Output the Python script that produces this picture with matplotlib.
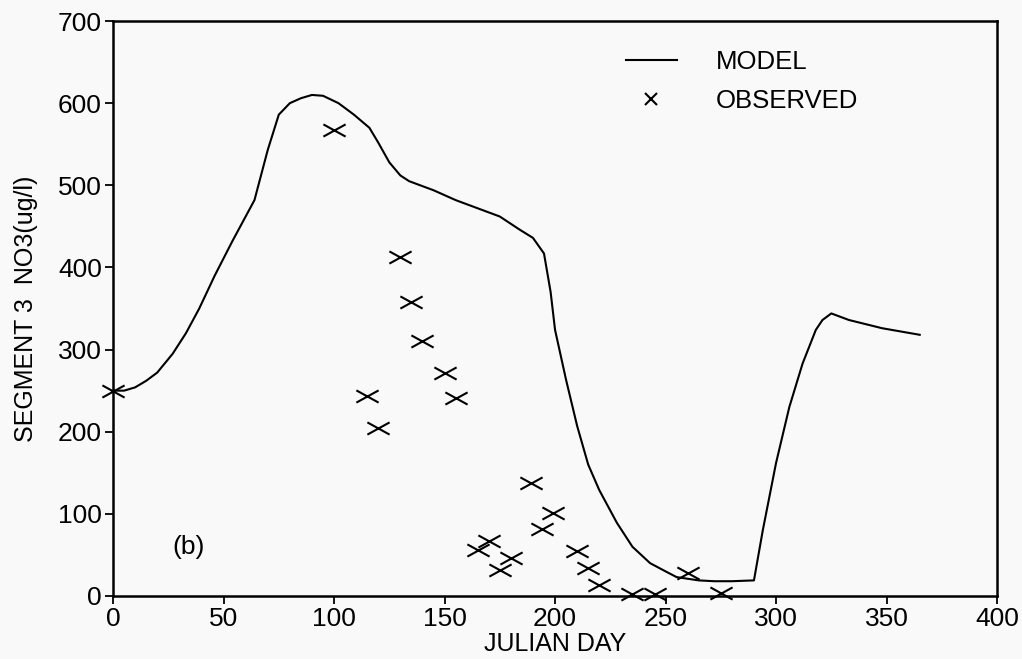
import numpy as np
import matplotlib
matplotlib.use("Agg")
import matplotlib.pyplot as plt
from matplotlib.path import Path
from matplotlib.lines import Line2D

# model curve
model_day = [0, 5, 10, 15, 20, 27, 33, 39, 46, 54, 64, 70, 75, 80, 85, 90, 95, 102,
             109, 116, 120, 125, 130, 134, 145, 155, 165, 175, 184, 190, 195, 198,
             200, 205, 210, 215, 220, 228, 235, 243, 250, 255, 265, 272, 280, 290,
             294, 300, 306, 312, 318, 321, 325, 333, 348, 365]
model_no3 = [250, 250, 254, 262, 272, 295, 320, 350, 390, 432, 482, 543, 586, 600,
             606, 610, 609, 600, 586, 570, 552, 528, 512, 505, 494, 482, 472, 462,
             446, 436, 417, 370, 324, 263, 207, 160, 129, 89, 60, 40, 30, 23, 19,
             18, 18, 19, 80, 162, 230, 283, 324, 336, 344, 336, 326, 318]

# observed samples
obs_day = [0, 100, 115, 120, 130, 135, 140, 150, 155, 165, 170, 175, 180, 189, 194,
           199, 210, 215, 220, 235, 245, 260, 275]
obs_no3 = [250, 567, 243, 204, 413, 358, 311, 271, 241, 56, 67, 32, 46, 137, 81,
           101, 55, 34, 14, 2, 2, 28, 4]

xticks = [0, 50, 100, 150, 200, 250, 300, 350, 400]
yticks = [0, 100, 200, 300, 400, 500, 600, 700]

plt.rcParams['font.family'] = ['Liberation Sans', 'DejaVu Sans']

# wide flat cross like the one in the scan
cross = Path([(-1, -0.55), (1, 0.55), (-1, 0.55), (1, -0.55)],
             [Path.MOVETO, Path.LINETO, Path.MOVETO, Path.LINETO])

fig = plt.figure(figsize=(10.22, 6.59), dpi=100, facecolor='#f9f9f9')
ax = fig.add_axes([0.1106, 0.0956, 0.865, 0.8725])
ax.set_facecolor('#f9f9f9')

ax.plot(model_day, model_no3, color='black', lw=1.5)
ax.plot(obs_day, obs_no3, ls='none', marker=cross, ms=16, mew=1.5,
        color='black', clip_on=False)

ax.set_xlim(0, 400)
ax.set_ylim(0, 700)
ax.set_xticks(xticks)
ax.set_yticks(yticks)
ax.tick_params(axis='both', direction='out', length=6, width=1.3,
               labelsize=19, pad=2, top=False, right=False)
for s in ax.spines.values():
    s.set_linewidth(1.8)

ax.set_xlabel('JULIAN DAY', fontsize=18, labelpad=1)
ax.set_ylabel('SEGMENT 3  NO3(ug/l)', fontsize=18, labelpad=14)

ax.text(34, 60, '(b)', fontsize=19, va='center', ha='center')

handles = [Line2D([], [], color='black', lw=1.5),
           Line2D([], [], ls='none', marker='x', ms=8, mew=1.5, color='black')]
ax.legend(handles, ['MODEL', 'OBSERVED'], loc='upper left',
          bbox_to_anchor=(0.58, 0.95), frameon=False, fontsize=18.5,
          handlelength=2.0, handletextpad=1.5, labelspacing=0.6,
          borderpad=0, borderaxespad=0)

fig.savefig('out.png', dpi=100, facecolor=fig.get_facecolor())
